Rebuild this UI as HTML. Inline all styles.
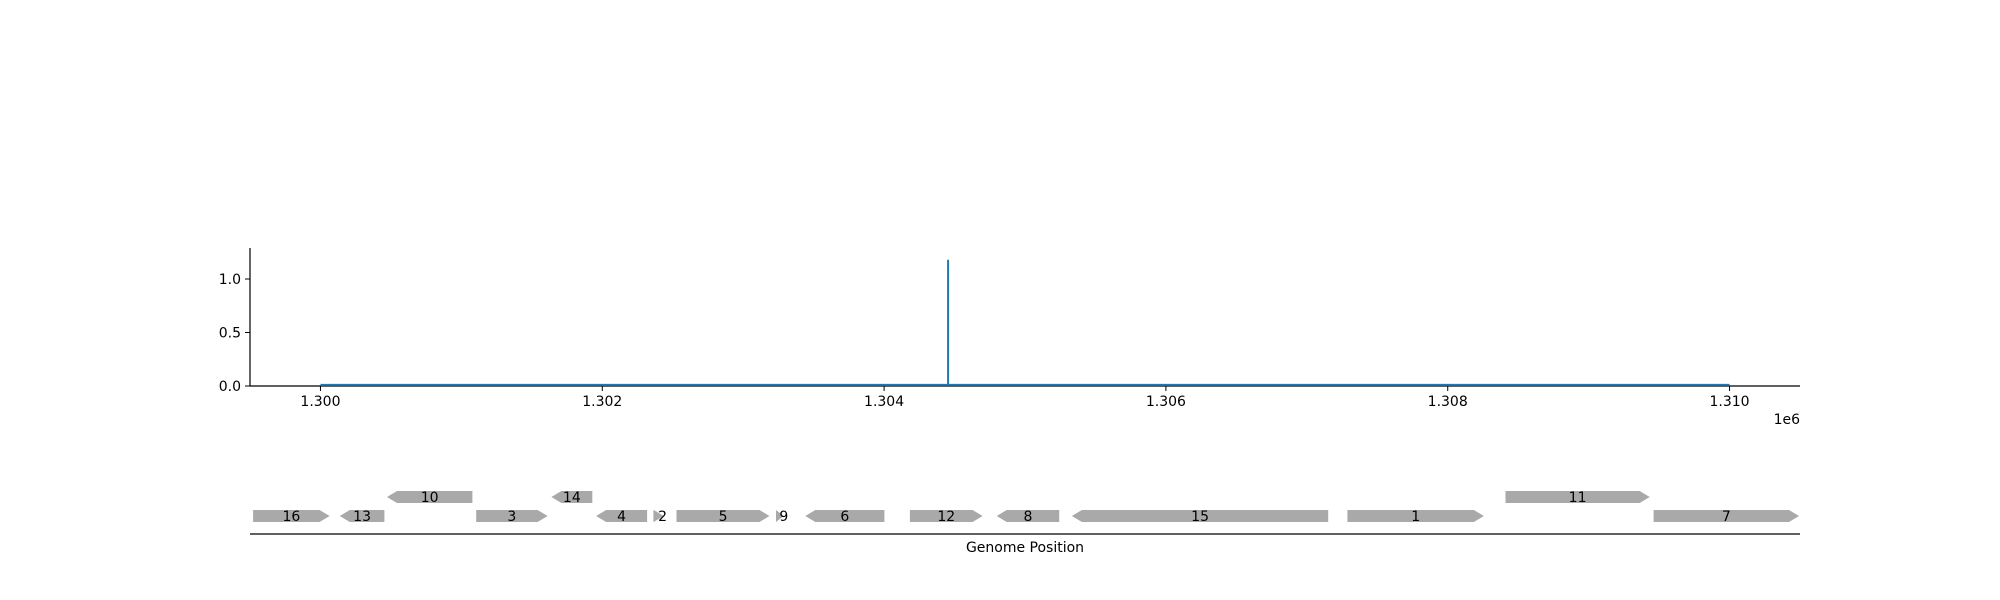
<!DOCTYPE html>
<html><head><meta charset="utf-8"><style>
html,body{margin:0;padding:0;background:#fff;}
svg{display:block;font-family:"DejaVu Sans","Liberation Sans",sans-serif;}
</style></head><body>
<svg id="chart" width="2000" height="600" viewBox="0 0 2000 600" xmlns="http://www.w3.org/2000/svg">
<g id="axes"></g>
<g id="genes"></g>
</svg>
<script>
const xTicks = [1300000, 1302000, 1304000, 1306000, 1308000, 1310000];
const xTickLabels = ["1.300", "1.302", "1.304", "1.306", "1.308", "1.310"];
const yTicks = [0, 0.5, 1.0];
const yTickLabels = ["0.0", "0.5", "1.0"];
const seriesX = [1300000, 1304454, 1304454, 1304454, 1310000];
const seriesY = [0.01, 0.01, 1.18, 0.01, 0.01];
const geneNames = ["16","13","10","3","14","4","2","5","9","6","12","8","15","1","11","7"];
const geneStart = [1299522,1300137,1300472,1301105,1301639,1301956,1302363,1302527,1303233,1303441,1304183,1304799,1305333,1307288,1308410,1309461];
const geneEnd   = [1300065,1300454,1301078,1301612,1301929,1302318,1302436,1303187,1303287,1304002,1304699,1305243,1307152,1308257,1309433,1310493];
const geneStrand = [1,-1,-1,1,-1,-1,1,1,1,-1,1,-1,-1,1,1,1];
const geneRow = [0,0,1,0,1,0,0,0,0,0,0,0,0,0,1,0];

const NS="http://www.w3.org/2000/svg";
const L=250,R=1800,T=248,B=386;
const xmin=1299500,xmax=1310500,ymin=0,ymax=1.29;
const X=v=>L+(v-xmin)/(xmax-xmin)*(R-L);
const Y=v=>B-(v-ymin)/(ymax-ymin)*(B-T);
function mk(tag,attrs,parent,text){const e=document.createElementNS(NS,tag);for(const k in attrs)e.setAttribute(k,attrs[k]);if(text!==undefined)e.textContent=text;parent.appendChild(e);return e;}
const ax=document.getElementById('axes');
let s=mk('line',{x1:L,y1:T,x2:L,y2:B+0.5,stroke:'#000','stroke-width':1.2},ax);


s=mk('line',{x1:L-0.5,y1:B,x2:R,y2:B,stroke:'#000','stroke-width':1.2},ax);


xTicks.forEach((t,i)=>{
  const x=X(t);
  const tk=mk('line',{x1:x,y1:B,x2:x,y2:B+5,stroke:'#000','stroke-width':1},ax);
  
  
  const lb=mk('text',{x:x,y:B+20,'font-size':14,'text-anchor':'middle'},ax,xTickLabels[i]);
  
  
});
yTicks.forEach((t,i)=>{
  const y=Y(t);
  const tk=mk('line',{x1:L-5,y1:y,x2:L,y2:y,stroke:'#000','stroke-width':1},ax);
  
  
  const lb=mk('text',{x:L-9,y:y+5,'font-size':14,'text-anchor':'end'},ax,yTickLabels[i]);
  
  
});
let off=mk('text',{x:1800,y:424,'font-size':14,'text-anchor':'end'},ax,'1e6');


let pts=seriesX.map((v,i)=>X(v).toFixed(1)+','+Y(seriesY[i]).toFixed(1)).join(' ');
let ln=mk('polyline',{points:pts,fill:'none',stroke:'#1f77b4','stroke-width':2},ax);



const g=document.getElementById('genes');
const rowY=[516,497],h=12,head=10;
geneNames.forEach((n,i)=>{
  const x1=X(geneStart[i]),x2=X(geneEnd[i]),yc=rowY[geneRow[i]];
  const hl=Math.min(head,x2-x1);
  let p;
  if(geneStrand[i]>0){
    p=[[x1,yc-h/2],[x2-hl,yc-h/2],[x2,yc],[x2-hl,yc+h/2],[x1,yc+h/2]];
  }else{
    p=[[x2,yc-h/2],[x1+hl,yc-h/2],[x1,yc],[x1+hl,yc+h/2],[x2,yc+h/2]];
  }
  const poly=mk('polygon',{points:p.map(q=>q[0].toFixed(1)+','+q[1].toFixed(1)).join(' '),fill:'#a9a9a9'},g);
  
  
  const small=(x2-x1)<15;
  const t=mk('text',{x:(x1+x2)/2+(small?4:0),y:yc+5,'font-size':14,'text-anchor':'middle'},g,n);
  
  
});
let base=mk('line',{x1:L,y1:534,x2:R,y2:534,stroke:'#000','stroke-width':1.2},g);


let xt=mk('text',{x:1025,y:552,'font-size':14,'text-anchor':'middle'},g,'Genome Position');


</script>
</body></html>
